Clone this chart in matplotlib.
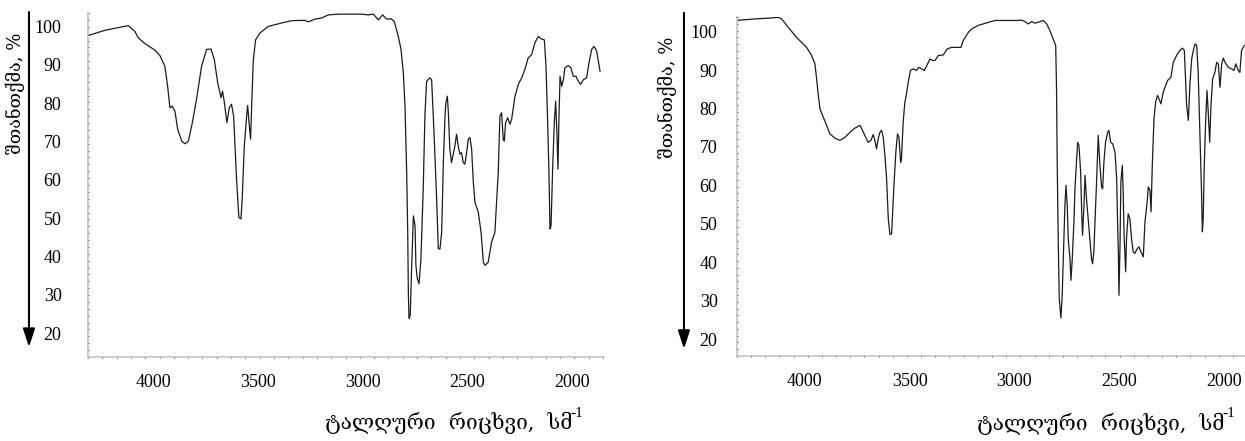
import numpy as np
import matplotlib
matplotlib.use('Agg')
import matplotlib.pyplot as plt

plt.rcParams['font.family'] = ['Liberation Serif', 'DejaVu Serif']

GEO = ['DejaVu Serif', 'DejaVu Sans']

# spectrum A (left)
wn_a = [4310, 4229, 4118, 4086, 4070, 4038, 3990, 3967, 3943, 3930, 3919, 3908, 3895, 3882,
        3863, 3847, 3831, 3812, 3792, 3768, 3744, 3723, 3707, 3691, 3675, 3668, 3660, 3647,
        3636, 3625, 3615, 3601, 3590, 3580, 3574, 3564, 3553, 3548, 3542, 3534, 3529, 3521,
        3510, 3489, 3450, 3386, 3338, 3275, 3259, 3227, 3195, 3163, 3115, 3004, 2972, 2948,
        2924, 2904, 2885, 2864, 2848, 2829, 2816, 2805, 2797, 2789, 2784, 2781, 2778, 2772,
        2765, 2757, 2749, 2745, 2738, 2730, 2721, 2710, 2702, 2694, 2678, 2670, 2662, 2654,
        2646, 2638, 2630, 2622, 2614, 2606, 2602, 2595, 2590, 2583, 2575, 2567, 2559, 2551,
        2543, 2535, 2527, 2519, 2511, 2503, 2495, 2487, 2479, 2471, 2463, 2447, 2434, 2423,
        2415, 2400, 2384, 2368, 2352, 2344, 2336, 2328, 2323, 2317, 2307, 2296, 2288, 2272,
        2256, 2240, 2225, 2209, 2193, 2177, 2161, 2145, 2132, 2124, 2116, 2110, 2105, 2100,
        2092, 2084, 2078, 2072, 2067, 2062, 2057, 2049, 2041, 2034, 2018, 2005, 1994, 1981,
        1970, 1959, 1946, 1930, 1919, 1906, 1895, 1882, 1866]
tr_a = [97.6, 99.0, 100.2, 98.7, 97.0, 95.5, 93.8, 92.4, 89.6, 84.4, 78.8, 79.2, 77.9, 73.2,
        70.1, 69.4, 70.1, 74.9, 81.0, 89.6, 94.0, 94.1, 91.3, 85.3, 81.4, 83.1, 80.5, 74.9,
        78.8, 79.7, 76.6, 60.2, 50.2, 49.8, 55.0, 68.8, 76.6, 79.4, 75.3, 70.6, 79.2, 91.3,
        96.5, 98.3, 100.0, 100.9, 101.5, 101.6, 101.2, 101.9, 102.2, 103.0, 103.2, 103.2, 103.0, 103.2,
        101.7, 103.0, 101.9, 102.0, 101.3, 97.4, 94.0, 87.9, 79.2, 61.9, 46.3, 30.7, 23.8, 24.7,
        37.7, 50.6, 48.0, 37.7, 34.2, 32.9, 39.4, 57.6, 76.6, 85.7, 86.6, 86.1, 76.6, 66.2,
        55.0, 42.0, 42.0, 46.3, 64.5, 76.6, 80.1, 81.8, 77.5, 68.0, 64.5, 66.7, 68.8, 71.9,
        68.8, 66.7, 67.1, 64.5, 64.1, 67.1, 70.6, 71.0, 68.0, 59.3, 54.1, 51.5, 46.3, 38.5,
        37.7, 38.5, 43.7, 46.3, 61.9, 76.6, 77.5, 70.6, 70.1, 74.9, 76.2, 74.5, 75.8, 81.8,
        84.9, 86.6, 88.8, 91.8, 92.6, 95.7, 97.4, 96.7, 96.5, 89.6, 74.9, 61.9, 47.2, 48.0,
        63.6, 75.3, 80.5, 72.3, 62.8, 76.6, 87.0, 84.4, 86.1, 89.2, 89.8, 89.2, 87.0, 87.0,
        85.7, 84.9, 86.1, 86.6, 90.5, 94.0, 94.8, 93.5, 88.3]

# spectrum B (right)
wn_b = [4326, 4239, 4175, 4127, 4111, 4079, 4040, 3992, 3968, 3952, 3944, 3936, 3928, 3912,
        3896, 3881, 3857, 3833, 3809, 3785, 3761, 3737, 3725, 3710, 3698, 3685, 3674, 3666,
        3658, 3650, 3642, 3634, 3626, 3618, 3610, 3602, 3594, 3586, 3581, 3575, 3566, 3558,
        3551, 3543, 3539, 3531, 3523, 3515, 3507, 3496, 3483, 3467, 3456, 3443, 3430, 3422,
        3403, 3392, 3379, 3363, 3340, 3321, 3300, 3276, 3255, 3244, 3220, 3204, 3173, 3125,
        3093, 3029, 2982, 2966, 2950, 2934, 2918, 2902, 2878, 2862, 2846, 2831, 2815, 2803,
        2799, 2796, 2791, 2786, 2778, 2772, 2764, 2759, 2754, 2748, 2743, 2735, 2730, 2724,
        2716, 2711, 2703, 2698, 2692, 2684, 2679, 2675, 2668, 2663, 2656, 2648, 2640, 2632,
        2627, 2621, 2616, 2608, 2600, 2592, 2584, 2579, 2573, 2565, 2555, 2549, 2541, 2531,
        2520, 2512, 2508, 2504, 2501, 2496, 2492, 2485, 2481, 2476, 2469, 2465, 2457, 2449,
        2441, 2433, 2425, 2414, 2406, 2396, 2385, 2377, 2368, 2361, 2353, 2348, 2342, 2334,
        2326, 2317, 2310, 2301, 2290, 2278, 2269, 2253, 2242, 2226, 2210, 2199, 2189, 2178,
        2170, 2162, 2154, 2146, 2138, 2130, 2123, 2115, 2107, 2103, 2099, 2094, 2088, 2081,
        2075, 2068, 2062, 2054, 2043, 2035, 2027, 2019, 2011, 2003, 1995, 1979, 1963, 1952,
        1943, 1932, 1924, 1916, 1903]
tr_b = [102.9, 103.3, 103.5, 103.7, 103.3, 101.1, 98.5, 95.9, 93.8, 91.6, 87.7, 83.4, 79.9, 77.7,
        75.6, 73.4, 72.3, 71.7, 72.5, 73.8, 74.9, 75.6, 74.3, 72.5, 71.2, 71.7, 73.2, 71.7,
        69.5, 72.1, 73.8, 74.3, 72.5, 67.8, 61.7, 51.3, 47.2, 47.4, 53.1, 60.0, 68.6, 73.4,
        72.5, 66.0, 66.9, 76.4, 81.6, 83.8, 86.8, 89.9, 90.3, 89.9, 90.7, 90.3, 89.9, 90.7,
        92.9, 92.5, 92.5, 93.8, 93.9, 95.5, 95.9, 95.9, 95.9, 97.7, 99.8, 100.7, 101.6, 102.4,
        102.9, 102.9, 102.9, 103.0, 102.6, 102.0, 102.6, 102.2, 102.6, 102.9, 102.0, 100.3, 98.1, 96.4,
        85.1, 66.9, 46.1, 30.5, 25.5, 31.4, 46.1, 54.8, 60.0, 54.8, 46.1, 40.9, 35.3, 40.9,
        50.5, 59.1, 66.9, 71.2, 70.4, 63.5, 53.1, 47.0, 54.8, 62.6, 56.5, 51.3, 46.1, 40.9,
        39.6, 42.7, 49.6, 60.9, 73.0, 65.2, 59.6, 59.1, 66.0, 71.2, 73.8, 74.3, 71.2, 70.8,
        68.6, 61.7, 51.3, 42.7, 31.4, 44.4, 60.9, 65.2, 58.3, 46.1, 37.5, 46.1, 52.6, 51.3,
        46.1, 42.7, 42.3, 43.5, 44.0, 42.7, 41.4, 50.5, 54.8, 59.6, 58.7, 53.1, 65.2, 77.3,
        81.6, 83.4, 82.5, 81.2, 84.2, 86.0, 87.3, 88.1, 92.0, 93.8, 95.1, 95.7, 95.1, 80.8,
        76.9, 86.8, 92.9, 95.1, 96.8, 96.4, 89.4, 73.8, 58.3, 47.9, 51.3, 65.2, 75.6, 84.7,
        79.0, 71.2, 80.8, 87.7, 89.4, 92.0, 91.6, 85.5, 91.6, 93.1, 92.0, 90.7, 90.3, 89.9,
        91.6, 89.9, 89.4, 95.1, 96.4]

x_ticks = [4000, 3500, 3000, 2500, 2000]
y_ticks = [20, 30, 40, 50, 60, 70, 80, 90, 100]
y_title = 'შთანთქმა, %'
x_title = 'ტალღური  რიცხვი,  სმ'
x_unit_exp = '-1'


def draw_panel(ax, wn, tr, xlim, ylim, ypad, arrow_x, arrow_top, arrow_tip, ylab_xy, xlab_xy):
    ax.plot(wn, tr, color='#1c1c1c', lw=0.9)
    ax.set_xlim(*xlim)
    ax.set_ylim(*ylim)

    for s in ['top', 'right']:
        ax.spines[s].set_visible(False)
    for s in ['left', 'bottom']:
        ax.spines[s].set_color('#c4c4c4')
        ax.spines[s].set_linewidth(1.2)

    ax.set_xticks(x_ticks)
    ax.set_xticklabels([str(t) for t in x_ticks], fontsize=13)
    ax.set_xticks(np.linspace(xlim[0], xlim[1], 37), minor=True)
    ax.set_yticks(y_ticks)
    ax.set_yticklabels([str(t) for t in y_ticks], fontsize=13)
    ax.set_yticks(np.linspace(ylim[0], ylim[1], 51), minor=True)
    ax.tick_params(axis='x', which='major', length=0, pad=12)
    ax.tick_params(axis='y', which='major', length=0, pad=ypad)
    ax.tick_params(which='minor', length=2, width=0.8, color='#333333', direction='inout')

    # downward arrow left of the tick labels
    ax.annotate('', xy=(arrow_x, arrow_tip), xytext=(arrow_x, arrow_top),
                xycoords='axes fraction', textcoords='axes fraction',
                arrowprops=dict(arrowstyle='-|>,head_length=1.1,head_width=0.36',
                                mutation_scale=10, color='black', lw=1.5,
                                shrinkA=0, shrinkB=0))

    ax.text(ylab_xy[0], ylab_xy[1], y_title, transform=ax.transAxes, rotation=90,
            ha='center', va='center', fontsize=13, family=GEO)
    xt = ax.text(xlab_xy[0], xlab_xy[1], x_title, transform=ax.transAxes,
                 ha='right', va='center', fontsize=15, family=GEO)
    # superscript exponent of the unit
    ax.annotate(x_unit_exp, xy=(1.0, 0.95), xycoords=xt, ha='left', va='center',
                fontsize=11, xytext=(-1.5, 0), textcoords='offset points')


fig = plt.figure(figsize=(12.45, 4.41), dpi=100)
ax1 = fig.add_axes([88 / 1245, 84 / 441, 515 / 1245, 344 / 441])
ax2 = fig.add_axes([737 / 1245, 85 / 441, 510 / 1245, 339 / 441])

draw_panel(ax1, wn_a, tr_a, (4310, 1852), (13.8, 103.5), 19,
           -0.1146, 1.003, 0.029, (-0.142, 0.767), (0.94, -0.192))
draw_panel(ax2, wn_b, tr_b, (4324, 1890), (15.6, 103.8), 14,
           -0.104, 1.012, 0.021, (-0.136, 0.764), (0.955, -0.200))

fig.savefig('out.png', dpi=100)
